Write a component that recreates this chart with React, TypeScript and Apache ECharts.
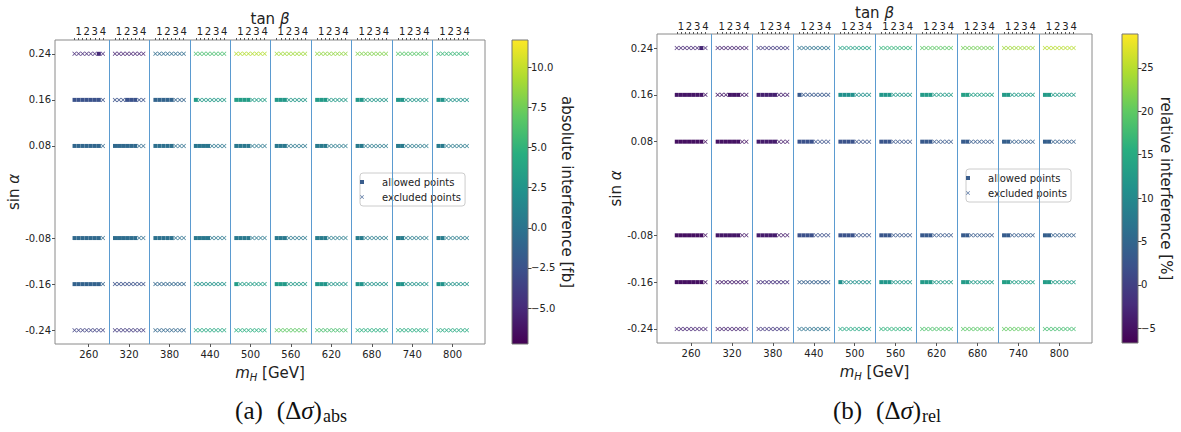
import React, { useEffect, useRef } from 'react';
import * as echarts from 'echarts';

// ---------------- data ----------------
const masses = [260, 320, 380, 440, 500, 560, 620, 680, 740, 800];
const tanBeta = [0.5, 1, 1.5, 2, 2.5, 3, 3.5, 4];
const tanBetaLabels = [1, 2, 3, 4];
const sinAlpha = [0.24, 0.16, 0.08, -0.08, -0.16, -0.24];
const separators = [290, 350, 410, 470, 530, 590, 650, 710, 770];

// 'o' = allowed point, 'x' = excluded point; rows follow sinAlpha, columns follow masses,
// characters follow tanBeta
const allowedPattern = [
  ['xxxxxxox', 'xxxxxxxx', 'xxxxxxxx', 'xxxxxxxx', 'xxxxxxxx', 'xxxxxxxx', 'xxxxxxxx', 'xxxxxxxx', 'xxxxxxxx', 'xxxxxxxx'],
  ['ooooooox', 'xxxoooxx', 'oooooxxx', 'oxxxxxxx', 'ooooxxxx', 'oooxxxxx', 'oooxxxxx', 'ooxxxxxx', 'ooxxxxxx', 'ooxxxxxx'],
  ['ooooooox', 'ooooooxx', 'oooooxxx', 'ooooxxxx', 'ooooxxxx', 'oooxxxxx', 'oooxxxxx', 'ooxxxxxx', 'ooxxxxxx', 'ooxxxxxx'],
  ['ooooooox', 'ooooooxx', 'oooooxxx', 'ooooxxxx', 'ooooxxxx', 'oooxxxxx', 'oooxxxxx', 'ooxxxxxx', 'ooxxxxxx', 'ooxxxxxx'],
  ['ooooooox', 'xxxxxxxx', 'xxxxxxxx', 'xxxxxxxx', 'oxxxxxxx', 'oooxxxxx', 'oooxxxxx', 'ooxxxxxx', 'ooxxxxxx', 'ooxxxxxx'],
  ['xxxxxxxx', 'xxxxxxxx', 'xxxxxxxx', 'xxxxxxxx', 'xxxxxxxx', 'xxxxxxxx', 'xxxxxxxx', 'xxxxxxxx', 'xxxxxxxx', 'xxxxxxxx'],
];

// absolute interference [fb], rows follow sinAlpha, columns follow masses
const absValues = [
  [-5.0, -5.5, -0.6, 6.0, 9.5, 8.9, 8.5, 8.0, 6.6, 5.3],
  [-2.5, -2.5, -1.2, 3.0, 3.2, 2.8, 3.0, 2.7, 2.6, 2.5],
  [-1.0, -0.8, -0.3, 0.2, 0.3, 0.3, 0.5, 0.5, 0.5, 0.5],
  [-0.8, -0.5, -0.2, 0.3, 0.4, 0.4, 0.6, 0.6, 0.6, 0.6],
  [-1.3, -2.5, -1.0, 2.5, 3.2, 3.0, 2.6, 2.5, 2.5, 2.4],
  [-3.5, -4.0, -1.0, 4.1, 4.6, 6.9, 6.0, 4.6, 4.4, 4.3],
];

// relative interference [%], rows follow sinAlpha, columns follow masses
const relValues = [
  [-3.0, -3.5, -0.7, 6.7, 13.7, 16.5, 19.7, 21.1, 23.6, 25.0],
  [-4.6, -4.5, -3.5, 3.2, 10.9, 12.0, 12.7, 13.4, 12.7, 12.7],
  [-5.2, -5.0, -4.0, 2.1, 2.3, 2.6, 3.2, 3.5, 4.0, 4.0],
  [-5.2, -4.5, -4.0, 2.0, 2.3, 2.8, 3.2, 3.5, 3.6, 4.0],
  [-5.2, -4.0, -1.8, 4.0, 10.9, 12.0, 12.5, 12.7, 13.3, 12.8],
  [-3.2, -3.5, -1.0, 6.7, 14.4, 16.2, 18.6, 19.5, 20.1, 17.9],
];

const absTicks = [-5, -2.5, 0, 2.5, 5, 7.5, 10];
const relTicks = [-5, 0, 5, 10, 15, 20, 25];
const absRange = [-7.24, 11.7];
const relRange = [-6.7, 28.9];

// ---------------- styling ----------------
const FONT = 'DejaVu Sans';
const TXT = '#222';
const SPINE = '#8a8a8a';
const SEP = '#5b9bd0';
const VIRIDIS = ['#440154', '#472d7b', '#3b528b', '#2c728e', '#21918c', '#28ae80', '#5ec962', '#addc30', '#fde725'];
const XMARK = 'path://M0,1.2L1.2,0L5,3.8L8.8,0L10,1.2L6.2,5L10,8.8L8.8,10L5,6.2L1.2,10L0,8.8L3.8,5Z';
const SQUARE = 'path://M0,0L10,0L10,10L0,10Z';
const STEP = 12; // mass units per unit of tan beta inside a mass group
const X_MIN = 210;
const X_MAX = 848;
const Y_LIM = 0.264;

const xPos = (m: number, t: number) => m + (t - 2.25) * STEP;

function buildPoints(values: number[][]) {
  const allowed: number[][] = [];
  const excluded: number[][] = [];
  sinAlpha.forEach((s, r) =>
    masses.forEach((m, c) =>
      tanBeta.forEach((t, k) => {
        const p = [xPos(m, t), s, values[r][c]];
        if (allowedPattern[r][c][k] === 'o') allowed.push(p);
        else excluded.push(p);
      })
    )
  );
  return { allowed, excluded };
}

const topTickPos = masses.flatMap((m) => tanBeta.map((t) => xPos(m, t)));
const topLabelPos = masses.flatMap((m) => tanBetaLabels.map((t) => xPos(m, t)));
const topLabelFmt = (v: number) => {
  let best = masses[0];
  masses.forEach((m) => {
    if (Math.abs(m - v) < Math.abs(best - v)) best = m;
  });
  return String(Math.round((v - best) / STEP + 2.25));
};

const nameRich = {
  n: { fontFamily: FONT, fontSize: 15, color: TXT },
  i: { fontFamily: FONT, fontSize: 15, color: TXT, fontStyle: 'italic' },
  s: { fontFamily: FONT, fontSize: 10, color: TXT, fontStyle: 'italic', padding: [8, 0, 0, 0] },
};

const panels = [
  {
    values: absValues,
    range: absRange,
    ticks: absTicks,
    fmt: (v: number) => v.toFixed(1).replace('-', '\u2212'),
    cbName: 'absolute interference [fb]',
    cbGap: 31,
    plot: { left: 55, top: 40, width: 430, height: 304 },
    cb: { left: 512, top: 40, width: 16, height: 304 },
    legend: { left: 360, top: 173 },
    topMargin: 4,
    caption: { x: 291, y: 410, tag: '(a)', sub: 'abs' },
  },
  {
    values: relValues,
    range: relRange,
    ticks: relTicks,
    fmt: (v: number) => String(v).replace('-', '\u2212'),
    cbName: 'relative interference [%]',
    cbGap: 20,
    plot: { left: 657, top: 34, width: 435, height: 309 },
    cb: { left: 1122, top: 34, width: 16, height: 309 },
    legend: { left: 966, top: 169 },
    topMargin: 3,
    caption: { x: 887, y: 410, tag: '(b)', sub: 'rel' },
  },
];

function buildOption() {
  const grid: any[] = [];
  const xAxis: any[] = [];
  const yAxis: any[] = [];
  const series: any[] = [];
  const visualMap: any[] = [];
  const legend: any[] = [];
  const graphic: any[] = [];

  panels.forEach((p) => {
    const gPlot = grid.length;
    grid.push({ ...p.plot, show: true, borderColor: SPINE, borderWidth: 1, backgroundColor: '#fff', containLabel: false });
    const gCb = grid.length;
    const stops = VIRIDIS.slice()
      .reverse()
      .map((c, i) => ({ offset: i / (VIRIDIS.length - 1), color: c }));
    grid.push({
      ...p.cb,
      show: true,
      borderColor: '#777',
      borderWidth: 1,
      backgroundColor: new echarts.graphic.LinearGradient(0, 0, 0, 1, stops),
      containLabel: false,
    });

    const xBottom = xAxis.length;
    xAxis.push({
      gridIndex: gPlot,
      type: 'value',
      position: 'bottom',
      min: X_MIN,
      max: X_MAX,
      axisLine: { show: false, onZero: false },
      splitLine: { show: false },
      axisTick: { show: true, customValues: masses, length: 3, lineStyle: { color: '#555' } },
      axisLabel: { customValues: masses, fontSize: 10, fontFamily: FONT, color: TXT, margin: 5 },
      name: '{i|m}{s|H}{n| [GeV]}',
      nameLocation: 'middle',
      nameGap: 20,
      nameMoveOverlap: false,
      nameTextStyle: { rich: nameRich, fontSize: 15, fontFamily: FONT, color: TXT, verticalAlign: 'top' },
    });
    xAxis.push({
      gridIndex: gPlot,
      type: 'value',
      position: 'top',
      min: X_MIN,
      max: X_MAX,
      axisLine: { show: false, onZero: false },
      splitLine: { show: false },
      axisTick: { show: true, customValues: topTickPos, length: 2, lineStyle: { color: '#555' } },
      axisLabel: {
        customValues: topLabelPos,
        interval: 0,
        formatter: topLabelFmt,
        fontSize: 10,
        fontFamily: FONT,
        color: TXT,
        margin: p.topMargin,
      },
      name: '{n|tan }{i|\u03b2}',
      nameLocation: 'middle',
      nameGap: 14,
      nameMoveOverlap: false,
      nameTextStyle: { rich: nameRich, fontSize: 15, fontFamily: FONT, color: TXT, verticalAlign: 'bottom' },
    });
    xAxis.push({ gridIndex: gCb, type: 'value', min: 0, max: 1, show: false, axisLine: { onZero: false } });

    const yPlot = yAxis.length;
    yAxis.push({
      gridIndex: gPlot,
      type: 'value',
      min: -Y_LIM,
      max: Y_LIM,
      axisLine: { show: false, onZero: false },
      splitLine: { show: false },
      axisTick: { show: true, customValues: sinAlpha, length: 3, lineStyle: { color: '#555' } },
      axisLabel: {
        customValues: sinAlpha,
        formatter: (v: number) => v.toFixed(2),
        fontSize: 10,
        fontFamily: FONT,
        color: TXT,
        margin: 4,
      },
      name: '{n|sin }{i|\u03b1}',
      nameLocation: 'middle',
      nameGap: 34,
      nameMoveOverlap: false,
      nameTextStyle: { rich: nameRich, fontSize: 15, fontFamily: FONT, color: TXT },
    });
    yAxis.push({
      gridIndex: gCb,
      type: 'value',
      position: 'right',
      min: p.range[0],
      max: p.range[1],
      axisLine: { show: false, onZero: false },
      splitLine: { show: false },
      axisTick: { show: true, customValues: p.ticks, length: 3.5, lineStyle: { color: '#444' } },
      axisLabel: { customValues: p.ticks, formatter: p.fmt, fontSize: 10, fontFamily: FONT, color: TXT, margin: 3 },
      name: p.cbName,
      nameLocation: 'middle',
      nameRotate: -90,
      nameGap: p.cbGap,
      nameMoveOverlap: false,
      nameTextStyle: { fontSize: 15, fontFamily: FONT, color: TXT },
    });

    const pts = buildPoints(p.values);
    const sAllowed = series.length;
    series.push({
      name: 'allowed points',
      type: 'scatter',
      xAxisIndex: xBottom,
      yAxisIndex: yPlot,
      symbol: SQUARE,
      symbolSize: 4,
      itemStyle: { color: '#3a5d8c', opacity: 1 },
      data: pts.allowed,
      silent: true,
      z: 3,
    });
    series.push({
      name: 'excluded points',
      type: 'scatter',
      xAxisIndex: xBottom,
      yAxisIndex: yPlot,
      symbol: XMARK,
      symbolSize: 4.5,
      itemStyle: { color: '#4a6a9a', opacity: 0.9 },
      data: pts.excluded,
      silent: true,
      z: 3,
      markLine: {
        silent: true,
        symbol: ['none', 'none'],
        label: { show: false },
        lineStyle: { color: SEP, width: 1, type: 'solid', opacity: 1 },
        emphasis: { disabled: true },
        data: separators.map((x) => ({ xAxis: x })),
      },
    });

    visualMap.push({
      type: 'continuous',
      show: false,
      min: p.range[0],
      max: p.range[1],
      dimension: 2,
      seriesIndex: [sAllowed, sAllowed + 1],
      inRange: { color: VIRIDIS },
    });

    legend.push({
      left: p.legend.left,
      top: p.legend.top,
      orient: 'vertical',
      data: ['allowed points', 'excluded points'],
      itemWidth: 30,
      itemHeight: 4,
      itemGap: 5,
      padding: [4, 4, 4, 0],
      backgroundColor: 'rgba(255,255,255,0.85)',
      borderColor: '#cccccc',
      borderWidth: 1,
      borderRadius: 3,
      selectedMode: false,
      textStyle: { fontSize: 10, fontFamily: FONT, color: TXT },
    });

    graphic.push({
      type: 'text',
      x: p.caption.x,
      y: p.caption.y,
      style: {
        text: `{n|${p.caption.tag}}{g| }{n|(\u0394}{i|\u03c3}{n|)}{s|${p.caption.sub}}`,
        align: 'center',
        verticalAlign: 'middle',
        rich: {
          n: { fontFamily: 'Liberation Serif', fontSize: 25, fill: '#111' },
          g: { fontFamily: 'Liberation Serif', fontSize: 25, width: 14 },
          i: { fontFamily: 'Liberation Serif', fontSize: 25, fill: '#111', fontStyle: 'italic' },
          s: { fontFamily: 'Liberation Serif', fontSize: 18, fill: '#111', padding: [11, 0, 0, 1] },
        },
      },
    });
  });

  return {
    animation: false,
    backgroundColor: '#fff',
    textStyle: { fontFamily: FONT },
    grid,
    xAxis,
    yAxis,
    series,
    visualMap,
    legend,
    graphic,
  };
}

export default function App() {
  const ref = useRef<HTMLDivElement>(null);
  useEffect(() => {
    if (!ref.current) return;
    const chart = echarts.init(ref.current, null, { renderer: 'svg' });
    chart.setOption(buildOption() as any);
    return () => chart.dispose();
  }, []);
  return (
    <div
      ref={ref}
      style={{ position: 'absolute', left: 0, top: 0, width: 1181, height: 432, background: '#fff' }}
    />
  );
}
